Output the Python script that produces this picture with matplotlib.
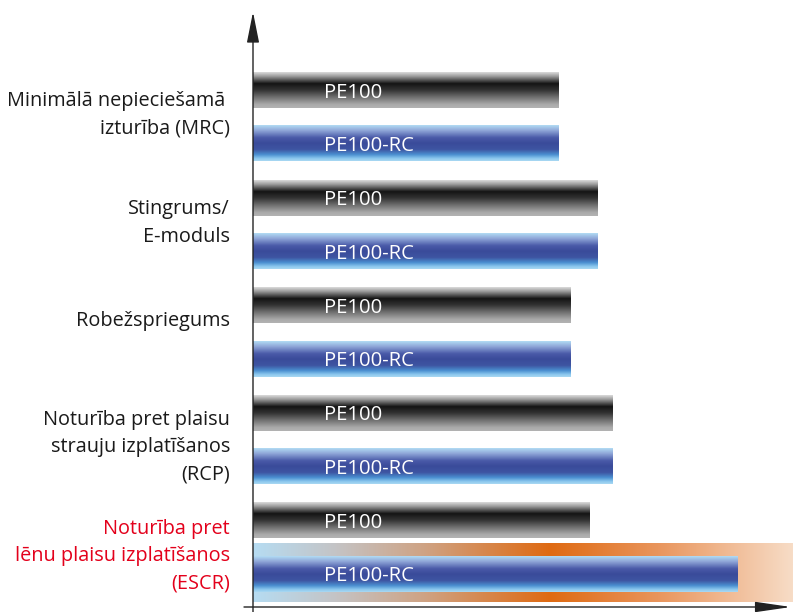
import numpy as np
import matplotlib.pyplot as plt
from matplotlib.colors import LinearSegmentedColormap

plt.rcParams["font.family"] = ["Open Sans", "DejaVu Sans"]

########## INPUTS ########
categories = [
    "Minimālā nepieciešamā \nizturība (MRC)",
    "Stingrums/\nE-moduls",
    "Robežspriegums",
    "Noturība pret plaisu\nstrauju izplatīšanos\n(RCP)",
    "Noturība pret\nlēnu plaisu izplatīšanos\n(ESCR)",
]
series = ["PE100", "PE100-RC"]
pe100 = [306, 345, 318, 360, 337]
pe100_rc = [306, 345, 318, 360, 485]
highlight = 4  # ESCR row gets the orange band and red label
###### END INPUTS ########

## vertical shading for the pipe-like bars
grey_cmap = LinearSegmentedColormap.from_list(
    "pipe_grey",
    [(0.0, "#dcdcdc"), (0.12, "#9a9a9a"), (0.32, "#141414"),
     (0.5, "#333333"), (0.72, "#767676"), (0.9, "#a9a9a9"), (1.0, "#b3b3b3")],
)
blue_cmap = LinearSegmentedColormap.from_list(
    "pipe_blue",
    [(0.0, "#b2dcf4"), (0.15, "#8fa6d8"), (0.35, "#4a5aa8"), (0.5, "#3a4b9a"),
     (0.68, "#3e55a2"), (0.82, "#4a8fd0"), (0.93, "#8cc8ee"), (1.0, "#aad8f2")],
)
band_cmap = LinearSegmentedColormap.from_list(
    "band",
    [(0.0, "#b6dcf2"), (0.15, "#c4c4c6"), (0.32, "#cfa282"), (0.55, "#df6a12"),
     (0.75, "#e9955c"), (1.0, "#f7dcc6")],
)
ramp = np.linspace(0, 1, 256)

fig = plt.figure(figsize=(7.93, 6.12), dpi=100)
ax = fig.add_axes([0, 0, 1, 1])
ax.set_xlim(-253, 540)
ax.set_ylim(612, 0)
ax.axis("off")

bar_h = 36
pitch = 107.6
first = 90
label_y = [115, 223, 321, 447, 556]

## orange band behind ESCR bar
y_band = first + pitch * highlight + 53.5
ax.imshow(ramp[None, :], cmap=band_cmap, aspect="auto",
          extent=[0, 540, y_band + 28, y_band - 31], zorder=1)

for i, cat in enumerate(categories):
    yc = first + pitch * i
    for val, cmap, name, dy in [(pe100[i], grey_cmap, series[0], 0),
                                (pe100_rc[i], blue_cmap, series[1], 53.5)]:
        y = yc + dy
        ax.imshow(ramp[:, None], cmap=cmap, aspect="auto",
                  extent=[0, val, y + bar_h / 2, y - bar_h / 2], zorder=2)
        ax.text(71, y + 2.5, name, color="white", fontsize=14.6,
                va="center", ha="left", zorder=3)
    ax.text(-23, label_y[i], cat, ha="right", va="center", fontsize=14.3,
            linespacing=1.47, color="#e3001b" if i == highlight else "#1a1a1a")

## axes with arrow heads
ax.annotate("", xy=(0, 12), xytext=(0, 612),
            arrowprops=dict(arrowstyle="-|>,head_length=1.9,head_width=0.38",
                            color="#222222", lw=1.0, shrinkA=0, shrinkB=0))
ax.annotate("", xy=(538, 607), xytext=(-9, 607),
            arrowprops=dict(arrowstyle="-|>,head_length=2.2,head_width=0.32",
                            color="#222222", lw=1.0, shrinkA=0, shrinkB=0))

plt.savefig("out.png", dpi=100)
